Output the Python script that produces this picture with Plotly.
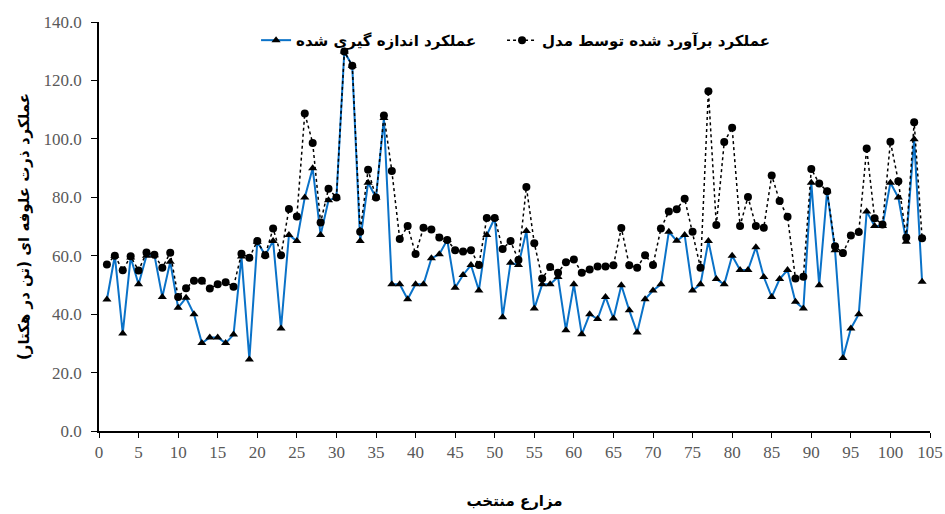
import plotly.graph_objects as go

farms = list(range(1, 105))

measured = [45.0, 60.0, 33.4, 59.4, 50.2, 60.0, 60.2, 45.9, 57.9, 42.2,
            45.6, 40.0, 30.1, 32.0, 32.0, 30.1, 33.0, 59.7, 24.5, 64.8,
            60.2, 65.0, 35.1, 67.1, 65.0, 79.9, 89.9, 67.1, 79.0, 79.9,
            129.9, 125.0, 65.0, 85.0, 79.9, 107.1, 50.2, 50.2, 45.1, 50.2,
            50.2, 59.1, 60.5, 65.4, 49.0, 53.4, 56.8, 48.1, 67.1, 72.9,
            38.9, 57.6, 56.8, 68.5, 41.9, 50.2, 50.2, 52.7, 34.5, 50.2,
            33.1, 40.0, 38.3, 45.9, 38.5, 49.9, 41.3, 33.7, 45.1, 48.1,
            50.2, 68.2, 65.1, 67.1, 48.1, 50.2, 65.0, 52.0, 50.2, 60.0,
            55.1, 55.1, 62.9, 52.7, 45.9, 52.0, 55.1, 44.2, 41.9, 85.0,
            49.9, 82.1, 61.9, 25.0, 35.1, 40.0, 75.1, 70.2, 70.2, 85.0,
            79.9, 64.8, 99.9, 51.1]

estimated = [57.0, 60.0, 55.0, 59.8, 54.9, 61.1, 60.3, 55.9, 61.0, 45.9,
             48.9, 51.4, 51.4, 48.8, 50.2, 50.9, 49.4, 60.7, 59.3, 65.0,
             60.2, 69.3, 60.2, 76.0, 73.4, 108.7, 98.6, 71.4, 82.9, 79.9,
             129.9, 125.0, 68.2, 89.4, 79.9, 108.0, 89.0, 65.7, 70.2, 60.6,
             69.6, 69.0, 66.2, 65.4, 61.9, 61.4, 61.9, 56.8, 72.9, 72.9,
             62.3, 65.0, 58.5, 83.5, 64.3, 52.2, 56.1, 54.2, 57.8, 58.7,
             54.2, 55.3, 56.3, 56.3, 56.7, 69.5, 56.7, 55.9, 60.2, 56.8,
             69.3, 75.1, 75.9, 79.5, 68.2, 55.9, 116.3, 70.5, 98.9, 103.8,
             70.2, 80.1, 70.2, 69.6, 87.5, 78.7, 73.3, 52.2, 52.8, 89.7,
             84.7, 82.1, 63.2, 60.9, 66.9, 68.1, 96.7, 72.8, 70.7, 99.0,
             85.5, 66.2, 105.7, 66.0]

y_ticks = [0, 20, 40, 60, 80, 100, 120, 140]
y_tick_labels = ["0.0", "20.0", "40.0", "60.0", "80.0", "100.0", "120.0", "140.0"]
x_ticks = list(range(0, 106, 5))

name_measured = "عملکرد اندازه گیری شده"
name_estimated = "عملکرد برآورد شده توسط مدل"
x_title = "مزارع منتخب"
y_title = "عملکرد ذرت علوفه ای (تن در هکتار)"

fig = go.Figure()
fig.add_trace(go.Scatter(
    x=farms, y=measured, name=name_measured, mode="lines+markers",
    line=dict(color="#0A72C8", width=2),
    marker=dict(symbol="triangle-up", size=8, color="black"),
    legend="legend",
))
fig.add_trace(go.Scatter(
    x=farms, y=estimated, name=name_estimated, mode="lines+markers",
    line=dict(color="black", width=1.5, dash="dot"),
    marker=dict(symbol="circle", size=8, color="black"),
    legend="legend2",
))

arabic_font = "DejaVu Sans"
tick_font = dict(family="Liberation Serif", size=17, color="#595959")
legend_font = dict(family=arabic_font, size=15, color="black", weight="bold")

fig.update_layout(
    width=945, height=514,
    margin=dict(l=99, r=15, t=22, b=83),
    plot_bgcolor="white", paper_bgcolor="white",
    showlegend=True,
    legend=dict(
        orientation="h", x=0.189, xanchor="left", y=0.955, yanchor="middle",
        font=legend_font, bgcolor="rgba(255,255,255,0)",
    ),
    legend2=dict(
        orientation="h", x=0.485, xanchor="left", y=0.955, yanchor="middle",
        font=legend_font, bgcolor="rgba(255,255,255,0)",
    ),
    xaxis=dict(
        range=[0, 105], tickvals=x_ticks, showgrid=False, zeroline=False,
        showline=True, linecolor="black", linewidth=1.5,
        ticks="outside", ticklen=5, tickcolor="black",
        tickfont=tick_font, automargin=False, ticklabeloverflow="allow",
        title=dict(text=x_title, font=dict(family=arabic_font, size=15, color="black", weight="bold"),
                   standoff=34),
    ),
    yaxis=dict(
        range=[0, 140], tickvals=y_ticks, ticktext=y_tick_labels,
        showgrid=False, zeroline=False,
        showline=True, linecolor="black", linewidth=1.5,
        ticks="outside", ticklen=6, tickcolor="black",
        tickfont=tick_font, automargin=False, ticklabelstandoff=6,
        title=dict(text=y_title, font=dict(family=arabic_font, size=15, color="black", weight="bold"),
                   standoff=10),
    ),
)

# remove the default page margin so the 945x514 figure fills the window exactly
fig.write_html(
    "out.html",
    config={"displayModeBar": False},
    post_script="document.body.style.margin='0';document.body.style.overflow='hidden';",
)
